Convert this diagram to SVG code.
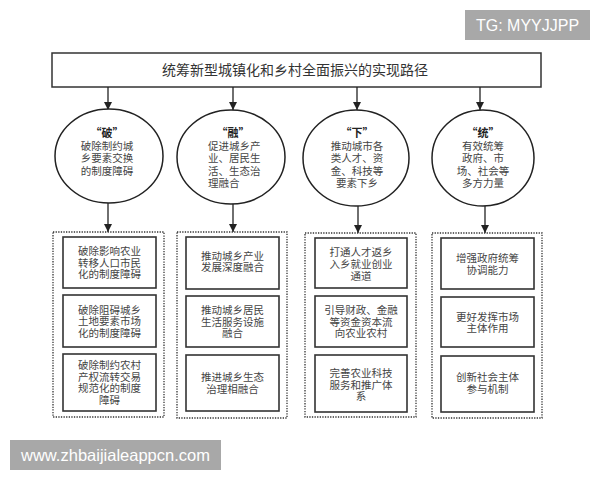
<svg xmlns="http://www.w3.org/2000/svg" width="600" height="480" viewBox="0 0 600 480">
<style>
.t{font-family:"Noto Sans CJK SC","Noto Sans",sans-serif;fill:#444;font-size:10.5px;text-anchor:middle}
.h{font-weight:bold;fill:#222;font-size:11px}
.ell{fill:#fff;stroke:#222;stroke-width:1.5}
.dot{fill:#fff;stroke:#333;stroke-width:1.3;stroke-dasharray:1.3 1.3}
.box{fill:#fff;stroke:#333;stroke-width:1.6}
.ln{stroke:#222;stroke-width:1.3;fill:none}
.wm{font-family:"Liberation Sans",Arial,sans-serif;fill:#fff}
</style>
<defs>
<marker id="ah" viewBox="0 0 10 10" refX="10" refY="5" markerWidth="8" markerHeight="8" markerUnits="userSpaceOnUse" orient="auto">
<path d="M0,0 L10,5 L0,10 Z" fill="#222"/>
</marker>
</defs>
<rect width="600" height="480" fill="#fff"/>

<g id="watermark-top">
<rect x="465" y="10" width="125" height="30" fill="#a8a8a8"/>
<text class="wm" x="527.5" y="31" font-size="16" text-anchor="middle">TG: MYYJJPP</text>
</g>
<g id="watermark-bottom">
<rect x="10" y="440" width="211" height="30" fill="#a8a8a8"/>
<text class="wm" x="115.5" y="461" font-size="16.5" text-anchor="middle">www.zhbaijialeappcn.com</text>
</g>

<g id="title">
<rect x="52" y="53" width="489" height="34" fill="#fff" stroke="#333" stroke-width="1.5"/>
<text class="t" x="295" y="75" style="font-size:14px;fill:#333">统筹新型城镇化和乡村全面振兴的实现路径</text>
</g>

<g id="connectors">
<line class="ln" x1="108" y1="87" x2="108" y2="110" marker-end="url(#ah)"/>
<line class="ln" x1="233" y1="87" x2="233" y2="110" marker-end="url(#ah)"/>
<line class="ln" x1="357" y1="87" x2="357" y2="110" marker-end="url(#ah)"/>
<line class="ln" x1="480" y1="87" x2="480" y2="110" marker-end="url(#ah)"/>
<line class="ln" x1="108" y1="203" x2="108" y2="232" marker-end="url(#ah)"/>
<line class="ln" x1="233" y1="204" x2="233" y2="232" marker-end="url(#ah)"/>
<line class="ln" x1="358" y1="206" x2="358" y2="233" marker-end="url(#ah)"/>
<line class="ln" x1="485" y1="206" x2="485" y2="233" marker-end="url(#ah)"/>
</g>

<g id="circle-po">
<ellipse class="ell" cx="109" cy="156" rx="54" ry="47"/>
<text class="t" x="107" y="137"><tspan class="h">“破”</tspan><tspan x="107" dy="12.5">破除制约城</tspan><tspan x="107" dy="12.5">乡要素交换</tspan><tspan x="107" dy="12.5">的制度障碍</tspan></text>
</g>
<g id="circle-rong">
<ellipse class="ell" cx="231" cy="157" rx="54" ry="47"/>
<text class="t" x="233" y="137"><tspan class="h">“融”</tspan><tspan x="208" dy="12.5" style="text-anchor:start">促进城乡产</tspan><tspan x="208" dy="12.5" style="text-anchor:start">业、居民生</tspan><tspan x="208" dy="12.5" style="text-anchor:start">活、生态治</tspan><tspan x="208" dy="12.5" style="text-anchor:start">理融合</tspan></text>
</g>
<g id="circle-xia">
<ellipse class="ell" cx="356" cy="158" rx="53" ry="48"/>
<text class="t" x="357" y="137"><tspan class="h">“下”</tspan><tspan x="357" dy="12.5">推动城市各</tspan><tspan x="357" dy="12.5">类人才、资</tspan><tspan x="357" dy="12.5">金、科技等</tspan><tspan x="357" dy="12.5">要素下乡</tspan></text>
</g>
<g id="circle-tong">
<ellipse class="ell" cx="483" cy="158" rx="51" ry="48"/>
<text class="t" x="483" y="137"><tspan class="h">“统”</tspan><tspan x="483" dy="12.5">有效统筹</tspan><tspan x="483" dy="12.5">政府、市</tspan><tspan x="483" dy="12.5">场、社会等</tspan><tspan x="483" dy="12.5">多方力量</tspan></text>
</g>

<g id="group-po">
<rect class="dot" x="53" y="232" width="111" height="185"/>
<g id="po-1">
<rect class="box" x="63" y="237" width="93" height="51"/>
<text class="t" x="109.5" y="255"><tspan>破除影响农业</tspan><tspan x="109.5" dy="11.5">转移人口市民</tspan><tspan x="109.5" dy="11.5">化的制度障碍</tspan></text>
</g>
<g id="po-2">
<rect class="box" x="63" y="295" width="93" height="52"/>
<text class="t" x="109.5" y="313.5"><tspan>破除阻碍城乡</tspan><tspan x="109.5" dy="11.5">土地要素市场</tspan><tspan x="109.5" dy="11.5">化的制度障碍</tspan></text>
</g>
<g id="po-3">
<rect class="box" x="63" y="354" width="93" height="57"/>
<text class="t" x="109.5" y="369"><tspan>破除制约农村</tspan><tspan x="109.5" dy="11.5">产权流转交易</tspan><tspan x="109.5" dy="11.5">规范化的制度</tspan><tspan x="109.5" dy="11.5">障碍</tspan></text>
</g>
</g>

<g id="group-rong">
<rect class="dot" x="177" y="232" width="110" height="186"/>
<g id="rong-1">
<rect class="box" x="186" y="237" width="93" height="52"/>
<text class="t" x="232.5" y="259.5"><tspan>推动城乡产业</tspan><tspan x="232.5" dy="11.5">发展深度融合</tspan></text>
</g>
<g id="rong-2">
<rect class="box" x="186" y="296" width="93" height="51"/>
<text class="t" x="232.5" y="314"><tspan>推动城乡居民</tspan><tspan x="232.5" dy="11.5">生活服务设施</tspan><tspan x="232.5" dy="11.5">融合</tspan></text>
</g>
<g id="rong-3">
<rect class="box" x="186" y="355" width="93" height="56"/>
<text class="t" x="232.5" y="381"><tspan>推进城乡生态</tspan><tspan x="232.5" dy="11.5">治理相融合</tspan></text>
</g>
</g>

<g id="group-xia">
<rect class="dot" x="305" y="233" width="111" height="184"/>
<g id="xia-1">
<rect class="box" x="315" y="238" width="92" height="50"/>
<text class="t" x="361" y="255.5"><tspan>打通人才返乡</tspan><tspan x="361" dy="12">入乡就业创业</tspan><tspan x="361" dy="12">通道</tspan></text>
</g>
<g id="xia-2">
<rect class="box" x="315" y="296" width="92" height="51"/>
<text class="t" x="361" y="314"><tspan>引导财政、金融</tspan><tspan x="361" dy="11.7">等资金资本流</tspan><tspan x="361" dy="11.7">向农业农村</tspan></text>
</g>
<g id="xia-3">
<rect class="box" x="315" y="355" width="92" height="57"/>
<text class="t" x="361" y="377.3"><tspan>完善农业科技</tspan><tspan x="361" dy="11.5">服务和推广体</tspan><tspan x="361" dy="11.5">系</tspan></text>
</g>
</g>

<g id="group-tong">
<rect class="dot" x="432" y="233" width="110" height="185"/>
<g id="tong-1">
<rect class="box" x="441" y="238" width="93" height="51"/>
<text class="t" x="487.5" y="262.3"><tspan>增强政府统筹</tspan><tspan x="487.5" dy="11.7">协调能力</tspan></text>
</g>
<g id="tong-2">
<rect class="box" x="441" y="297" width="93" height="50"/>
<text class="t" x="487.5" y="320.7"><tspan>更好发挥市场</tspan><tspan x="487.5" dy="11.6">主体作用</tspan></text>
</g>
<g id="tong-3">
<rect class="box" x="441" y="356" width="93" height="56"/>
<text class="t" x="487.5" y="381.3"><tspan>创新社会主体</tspan><tspan x="487.5" dy="11.7">参与机制</tspan></text>
</g>
</g>
</svg>
